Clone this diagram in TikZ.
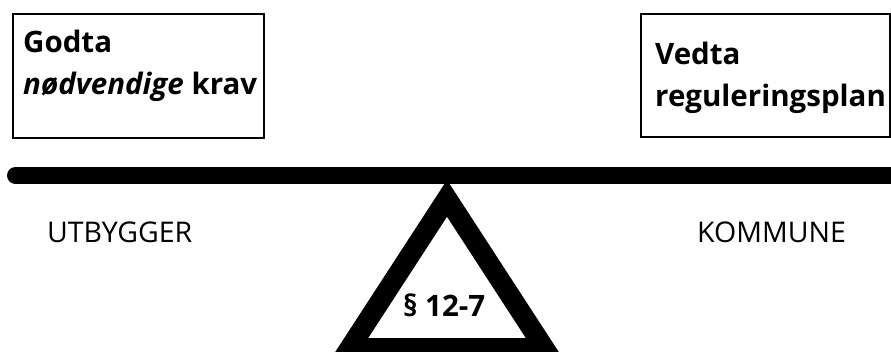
\documentclass[tikz,border=0pt]{standalone}
\usepackage{fontspec}
\setmainfont{Open Sans}
\tikzset{
  box/.style={draw, line width=2.5pt, inner sep=0pt},
  boxtext/.style={anchor=base west, inner sep=0pt, font=\fontsize{29.5}{42}\selectfont\bfseries},
  side/.style={anchor=base west, inner sep=0pt, font=\fontsize{28.5}{32}\selectfont},
}
\begin{document}
\begin{tikzpicture}[x=1pt,y=-1pt]
\useasboundingbox (0,0) rectangle (891,352);
\fill[white] (0,0) rectangle (891,352);
% boxes
\draw[box] (13,14) rectangle (264,138);
\draw[box] (641,14) rectangle (890,137);
\node[boxtext] (g1) at (23,53) {Godta};
\node[boxtext] (g2) at (23,95) {\itshape nødvendige\/ \upshape krav};
\node[boxtext] (v1) at (655,65) {Vedta};
\node[boxtext] (v2) at (655,107) {reguleringsplan};
% bar
\draw[line width=17pt, line cap=round] (15.5,175.5) -- (910,175.5);
% fulcrum
\fill[black] (447,180) -- (564,360) -- (330,360) -- cycle;
\fill[white] (447,217) -- (525.6,338) -- (368.4,338) -- cycle;
\node[boxtext] (para) at (403,317) {§ 12-7};
% labels
\node[side] (u) at (47,243) {UTBYGGER};
\node[side] (k) at (697,243) {KOMMUNE};
\end{tikzpicture}
\end{document}
